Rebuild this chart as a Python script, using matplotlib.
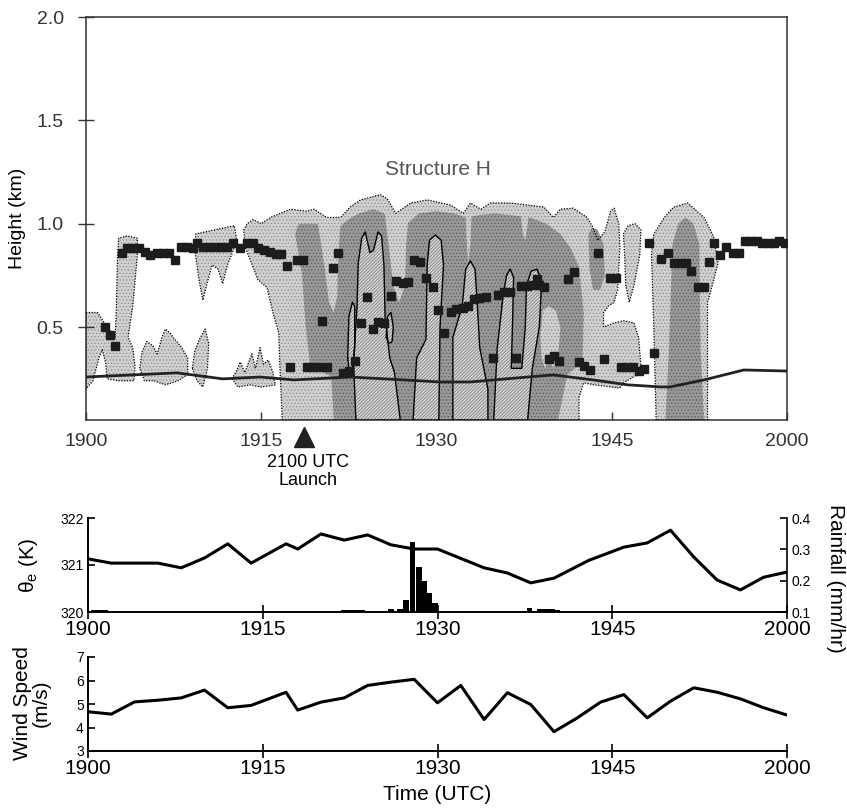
import matplotlib
matplotlib.use('Agg')
import matplotlib.pyplot as plt
import matplotlib.transforms as mtransforms

plt.rcParams['font.family'] = ['Liberation Sans', 'DejaVu Sans']
plt.rcParams['mathtext.default'] = 'regular'
plt.rcParams['hatch.linewidth'] = 0.5

# time in minutes after 1900 UTC
tick_min = [0, 15, 30, 45, 60]
tick_lab = ['1900', '1915', '1930', '1945', '2000']

# ---- echo outlines (minute, km) ----
# weak echo, dotted outline
weak_1 = [(0, 0.57), (1.0, 0.57), (1.8, 0.5), (2.5, 0.45), (2.6, 0.6), (2.7, 0.85), (2.8, 0.93),
          (3.5, 0.94), (4.4, 0.93), (4.4, 0.85), (4.0, 0.6), (3.6, 0.45), (4.0, 0.4), (4.2, 0.31),
          (4.1, 0.24), (2.7, 0.24), (1.8, 0.25), (1.7, 0.32), (1.4, 0.39), (1.1, 0.35), (0.6, 0.24),
          (0, 0.2)]
weak_2 = [(4.6, 0.3), (4.8, 0.38), (5.2, 0.43), (5.7, 0.41), (6.1, 0.37), (6.5, 0.45), (6.8, 0.49),
          (7.2, 0.47), (7.6, 0.44), (8.2, 0.4), (8.7, 0.35), (8.7, 0.27), (7.9, 0.24), (6.8, 0.22),
          (5.8, 0.24), (5.0, 0.24)]
weak_3 = [(9.1, 0.3), (9.3, 0.38), (9.7, 0.44), (10.2, 0.49), (10.5, 0.42), (10.4, 0.3),
          (10.0, 0.21), (9.5, 0.24)]
weak_4 = [(9.3, 0.88), (9.4, 0.95), (11.0, 0.97), (12.7, 0.99), (12.9, 0.92), (12.6, 0.87),
          (12.1, 0.8), (11.7, 0.71), (11.3, 0.78), (10.8, 0.8), (10.4, 0.72), (10.0, 0.63), (9.7, 0.72)]
weak_5 = [(12.5, 0.25), (12.9, 0.29), (13.2, 0.33), (13.6, 0.28), (14.2, 0.37), (14.5, 0.3),
          (14.9, 0.4), (15.2, 0.32), (15.6, 0.34), (16.0, 0.28), (16.2, 0.22), (15.0, 0.21),
          (14.0, 0.22), (13.0, 0.21)]
weak_6 = [(16.8, 0.05), (16.6, 0.3), (16.5, 0.47), (16.0, 0.57), (15.5, 0.69), (14.7, 0.73),
          (14.3, 0.79), (13.6, 0.89), (13.5, 0.97), (13.8, 1.0), (14.3, 1.02), (15.0, 1.0),
          (15.8, 1.03), (17.5, 1.07), (18.9, 1.06), (19.5, 1.07), (20.6, 1.03), (21.8, 1.03),
          (22.6, 1.08), (23.5, 1.115), (25.2, 1.14), (25.8, 1.12), (26.5, 1.05), (27.8, 1.1),
          (29.2, 1.115), (31.2, 1.09), (32.3, 1.05), (32.9, 1.1), (33.8, 1.07), (34.6, 1.1),
          (36.3, 1.1), (37.8, 1.09), (39.2, 1.08), (40.0, 1.03), (40.6, 1.07), (41.7, 1.075),
          (42.9, 1.03), (43.4, 0.98), (43.8, 0.92), (44.4, 0.96), (44.9, 1.06), (45.2, 1.075),
          (45.6, 1.0), (45.7, 0.89), (45.5, 0.68), (45.2, 0.62), (44.7, 0.6), (44.3, 0.57),
          (44.3, 0.5), (45.2, 0.52), (46.0, 0.53), (46.9, 0.52), (47.3, 0.45), (47.5, 0.31),
          (47.2, 0.27), (46.0, 0.23), (45.7, 0.205), (43.5, 0.22), (42.6, 0.23), (42.2, 0.16),
          (42.2, 0.05)]
weak_7 = [(46.0, 0.95), (46.4, 0.99), (47.0, 1.0), (47.5, 0.97), (47.4, 0.85), (46.9, 0.7),
          (46.5, 0.62), (46.2, 0.7), (46.1, 0.85)]
weak_8 = [(48.8, 0.05), (48.6, 0.5), (48.4, 0.85), (48.6, 0.95), (49.5, 1.03), (50.3, 1.08),
          (51.5, 1.1), (52.9, 1.03), (53.7, 0.94), (54.1, 0.81), (53.6, 0.7), (53.2, 0.62),
          (53.2, 0.05)]
weak_all = [weak_1, weak_2, weak_3, weak_4, weak_5, weak_6, weak_7, weak_8]

# moderate echo
mod_1 = [(21.2, 0.05), (21.0, 0.26), (19.2, 0.31), (18.8, 0.5), (18.5, 0.75), (17.9, 0.95),
         (18.2, 1.0), (19.8, 1.0), (20.3, 0.95), (21.5, 0.97), (22.0, 1.0), (22.7, 1.03),
         (23.4, 1.05), (24.6, 1.07), (25.5, 1.05), (26.2, 1.0), (27.5, 1.0), (28.5, 1.05),
         (30.0, 1.06), (31.5, 1.05), (32.5, 1.03), (33.5, 1.04), (35.0, 1.05), (36.5, 1.04),
         (38.0, 1.03), (39.4, 1.0), (40.6, 0.95), (41.5, 0.88), (42.2, 0.79), (42.6, 0.57),
         (42.5, 0.33), (41.2, 0.27), (40.4, 0.05)]
mod_2 = [(43.0, 0.95), (43.3, 0.98), (43.8, 0.97), (44.3, 0.9), (44.4, 0.75), (44.0, 0.68),
         (43.4, 0.68), (43.1, 0.78)]
mod_3 = [(49.6, 0.05), (49.9, 0.4), (50.2, 0.9), (50.7, 1.0), (51.3, 1.03), (52.0, 1.0),
         (52.5, 0.9), (52.6, 0.4), (52.9, 0.05)]
mod_all = [mod_1, mod_2, mod_3]

# weak gaps inside the moderate echo
gap_1 = [(19.8, 1.02), (20.4, 0.8), (20.8, 0.62), (21.2, 0.57), (21.5, 0.65), (21.6, 0.85), (21.8, 1.02)]
gap_2 = [(25.6, 1.04), (26.0, 0.85), (26.3, 0.7), (26.8, 0.62), (27.3, 0.7), (27.4, 0.9), (27.6, 1.04)]
gap_3 = [(32.5, 1.05), (32.6, 0.9), (32.7, 0.81), (32.9, 0.9), (33.0, 1.05)]
gap_4 = [(37.2, 1.05), (37.4, 0.95), (37.6, 0.92), (37.8, 1.0), (37.9, 1.05)]
gap_5 = [(38.9, 0.45), (39.1, 0.58), (39.6, 0.6), (40.2, 0.58), (40.6, 0.5), (40.4, 0.35),
         (40.0, 0.3), (39.6, 0.35), (39.3, 0.3), (39.0, 0.35)]
gap_all = [gap_1, gap_2, gap_3, gap_4, gap_5]

# strong echo, hatched with solid outline
strong_1 = [(23.1, 0.05), (22.9, 0.33), (23.2, 0.6), (23.3, 0.81), (23.6, 0.93), (23.9, 0.96),
            (24.3, 0.86), (24.6, 0.87), (25.0, 0.96), (25.3, 0.94), (25.5, 0.8), (25.6, 0.55),
            (26.0, 0.35), (26.4, 0.28), (26.9, 0.05)]
strong_2 = [(22.4, 0.35), (22.5, 0.55), (22.8, 0.62), (23.0, 0.6), (23.0, 0.4), (22.8, 0.3), (22.5, 0.3)]
strong_3 = [(25.7, 0.45), (25.8, 0.55), (26.1, 0.57), (26.3, 0.5), (26.2, 0.43), (25.9, 0.42)]
strong_4 = [(28.0, 0.05), (28.3, 0.35), (29.1, 0.44), (29.2, 0.8), (29.4, 0.92), (29.9, 0.945),
            (30.4, 0.92), (30.6, 0.8), (30.3, 0.5), (30.2, 0.05)]
strong_5 = [(31.4, 0.05), (31.4, 0.45), (32.2, 0.6), (32.5, 0.78), (32.9, 0.82), (33.3, 0.78),
            (33.5, 0.6), (33.7, 0.4), (34.4, 0.2), (34.4, 0.05)]
strong_6 = [(34.9, 0.05), (35.2, 0.4), (35.7, 0.65), (36.0, 0.75), (36.3, 0.78), (36.6, 0.74),
            (36.5, 0.5), (36.4, 0.3), (37.3, 0.3), (37.6, 0.5), (37.7, 0.7), (38.1, 0.77),
            (38.6, 0.78), (39.0, 0.72), (38.8, 0.5), (38.2, 0.3), (37.8, 0.05)]
strong_all = [strong_1, strong_2, strong_3, strong_4, strong_5, strong_6]

# lidar layer tops (squares)
top_t = [1.63, 2.06, 2.49, 3.09, 3.51, 4.03, 4.54, 5.06, 5.49, 6.09, 6.6, 7.11, 7.63, 8.14, 8.66,
         9.17, 9.51, 10.03, 10.54, 11.06, 11.57, 12.09, 12.6, 13.2, 13.8, 14.31, 14.74, 15.26,
         15.77, 16.29, 16.71, 17.23, 17.49, 18.09, 18.6, 18.94, 19.37, 19.89, 20.23, 20.66, 21.17,
         21.6, 22.03, 22.54, 23.06, 23.57, 24.09, 24.6, 25.03, 25.54, 26.14, 26.57, 27.09, 27.6,
         28.11, 28.63, 29.06, 29.66, 30.17, 30.6, 31.2, 31.71, 32.23, 32.66, 33.17, 33.68, 34.2,
         34.8, 35.23, 35.74, 36.26, 36.77, 37.2, 37.71, 38.23, 38.57, 38.74, 39.17, 39.6, 40.03,
         40.46, 41.23, 41.74, 42.17, 42.6, 43.11, 43.8, 44.31, 44.83, 45.34, 45.77, 46.28, 46.8,
         47.31, 47.74, 48.17, 48.6, 49.2, 49.8, 50.31, 50.83, 51.34, 51.77, 52.37, 52.88, 53.31,
         53.74, 54.26, 54.77, 55.37, 55.88, 56.4, 56.91, 57.43, 57.86, 58.37, 58.89, 59.31, 59.83]
top_h = [0.50, 0.46, 0.41, 0.86, 0.88, 0.88, 0.88, 0.865, 0.85, 0.86, 0.86, 0.86, 0.825, 0.885,
         0.885, 0.88, 0.905, 0.885, 0.885, 0.885, 0.885, 0.885, 0.905, 0.883, 0.905, 0.905, 0.883,
         0.875, 0.865, 0.855, 0.855, 0.796, 0.307, 0.825, 0.825, 0.307, 0.307, 0.307, 0.53, 0.307,
         0.785, 0.858, 0.278, 0.285, 0.336, 0.52, 0.645, 0.49, 0.525, 0.52, 0.65, 0.725, 0.715,
         0.72, 0.825, 0.815, 0.737, 0.694, 0.58, 0.47, 0.575, 0.585, 0.59, 0.6, 0.635, 0.64, 0.645,
         0.35, 0.655, 0.67, 0.67, 0.35, 0.70, 0.70, 0.705, 0.73, 0.705, 0.695, 0.345, 0.36, 0.335,
         0.73, 0.766, 0.33, 0.31, 0.29, 0.858, 0.345, 0.737, 0.737, 0.307, 0.307, 0.307, 0.285,
         0.295, 0.905, 0.375, 0.83, 0.858, 0.81, 0.81, 0.81, 0.77, 0.694, 0.694, 0.815, 0.905,
         0.85, 0.885, 0.858, 0.858, 0.915, 0.915, 0.915, 0.905, 0.905, 0.905, 0.915, 0.905]

# lifting condensation level
lcl_t = [0, 7.8, 11.7, 14.9, 17.8, 22.6, 27.2, 30.3, 32.9, 37.8, 40.0, 43.4, 46.4, 49.2, 50.0,
         52.9, 56.3, 60]
lcl_h = [0.258, 0.278, 0.249, 0.258, 0.244, 0.258, 0.244, 0.234, 0.234, 0.258, 0.268, 0.244,
         0.220, 0.210, 0.210, 0.244, 0.292, 0.287]

# surface theta-e
the_t = [0, 2, 4, 6, 8, 10, 12, 14, 17, 18, 20, 22, 24, 26, 28, 30, 34, 36, 38, 40, 43, 46, 48,
         50, 52, 54, 56, 58, 60]
the_v = [321.13, 321.04, 321.04, 321.04, 320.94, 321.15, 321.45, 321.04, 321.45, 321.34, 321.66,
         321.53, 321.64, 321.43, 321.34, 321.34, 320.94, 320.83, 320.62, 320.72, 321.1, 321.38,
         321.47, 321.74, 321.17, 320.68, 320.47, 320.74, 320.85]

# rainfall
rain_t = [0.5, 1.0, 1.5, 22.0, 22.5, 23.0, 23.5, 26.0, 26.75, 27.3, 27.85, 28.4, 28.85, 29.3,
          29.75, 37.9, 38.8, 39.3, 39.8, 40.3]
rain_v = [0.107, 0.107, 0.107, 0.105, 0.105, 0.105, 0.105, 0.108, 0.11, 0.137, 0.323, 0.245,
          0.2, 0.16, 0.13, 0.112, 0.108, 0.108, 0.108, 0.106]

# surface wind speed
wind_t = [0, 2, 4, 6, 8, 10, 12, 14, 17, 18, 20, 22, 24, 26, 28, 30, 32, 34, 36, 38, 40, 42, 44,
          46, 48, 50, 52, 54, 56, 58, 60]
wind_v = [4.67, 4.57, 5.09, 5.16, 5.26, 5.59, 4.84, 4.94, 5.5, 4.74, 5.08, 5.26, 5.79, 5.93, 6.05,
          5.05, 5.79, 4.34, 5.48, 4.98, 3.82, 4.41, 5.08, 5.4, 4.41, 5.12, 5.69, 5.5, 5.22, 4.84, 4.53]

W, H = 847, 811
fig = plt.figure(figsize=(W / 100, H / 100), dpi=100)


def box(x0, y0, x1, y1):
    return [x0 / W, 1 - y1 / H, (x1 - x0) / W, (y1 - y0) / H]


def shade(ax, pts, face, hatch, hcol, z):
    t, h = zip(*pts)
    ax.fill(t, h, facecolor=face, edgecolor=hcol, hatch=hatch, linewidth=0, zorder=z)


def outline(ax, pts, ls, lw, z):
    t, h = zip(*(pts + pts[:1]))
    ax.plot(t, h, ls=ls, color='k', lw=lw, zorder=z)


# ---- height-time section ----
ax = fig.add_axes(box(86, 17, 787, 420))
for p in weak_all:
    shade(ax, p, '#d0d0d0', '.....', '#8a8a8a', 1)
for p in mod_all:
    shade(ax, p, '#989898', '.....', '#5a5a5a', 2)
for p in gap_all:
    shade(ax, p, '#d0d0d0', '.....', '#8a8a8a', 2.5)
for p in strong_all:
    shade(ax, p, '#d6d6d6', '//////////', '#707070', 3)
for p in weak_all:
    outline(ax, p, (0, (1, 1.2)), 0.9, 3.5)
for p in strong_all:
    outline(ax, p, '-', 1.0, 3.6)

ax.plot(lcl_t, lcl_h, color='#222222', lw=2.0, zorder=5)
ax.plot(top_t, top_h, ls='none', marker='s', ms=5.6, color='#1c1c1c', zorder=6)

ax.set_xlim(0, 60)
ax.set_ylim(0.05, 2.0)
ax.set_xticks(tick_min)
ax.set_xticklabels(tick_lab)
ax.set_yticks([0.5, 1.0, 1.5, 2.0])
ax.set_yticklabels(['0.5', '1.0', '1.5', '2.0'])
ax.tick_params(axis='x', direction='in', length=6, width=1, pad=9, labelsize=14, colors='#333333')
ax.tick_params(axis='y', direction='inout', length=12, width=1, pad=10, labelsize=14, colors='#333333')
for s in ax.spines.values():
    s.set_linewidth(1.1)
    s.set_color('#333333')
ax.text(30.1, 1.26, 'Structure H', ha='center', va='center', fontsize=15, color='#555555', zorder=7)

trans = mtransforms.blended_transform_factory(ax.transData, ax.transAxes)
ax.plot([18.7], [-0.042], marker='^', ms=14, color='#222222', transform=trans, clip_on=False)
ax.text(19.0, -0.128, '2100 UTC\nLaunch', ha='center', va='center', fontsize=13,
        linespacing=1.05, transform=trans)

fig.text(18 / W, 1 - 218 / H, 'Height (km)', rotation=90, ha='center', va='center', fontsize=14)

# ---- theta-e and rainfall ----
ax2 = fig.add_axes(box(88, 518, 787, 612))
ax2.plot(the_t, the_v, color='k', lw=2.2, zorder=3)
ax2.set_xlim(0, 60)
ax2.set_ylim(320, 322)
ax2.set_yticks([320, 321, 322])
ax2.set_xticks(tick_min)
ax2.set_xticklabels(tick_lab)
ax2.tick_params(axis='x', direction='inout', length=10, width=1.2, pad=1, labelsize=15)
ax2.tick_params(axis='y', direction='in', length=5, width=1.2, pad=3, labelsize=10)
ax2.spines['top'].set_visible(False)
ax2.spines['right'].set_visible(False)
for s in ('left', 'bottom'):
    ax2.spines[s].set_linewidth(1.4)

axr = ax2.twinx()
axr.bar(rain_t, rain_v, width=0.5, color='k', zorder=4)
axr.set_ylim(0.1, 0.4)
axr.set_yticks([0.1, 0.2, 0.3, 0.4])
axr.set_yticklabels(['0.1', '0.2', '0.3', '0.4'])
axr.tick_params(axis='y', direction='in', length=5, width=1.2, pad=3, labelsize=10)
for s in ('top', 'left', 'bottom'):
    axr.spines[s].set_visible(False)
axr.spines['right'].set_linewidth(1.2)

fig.text(28 / W, 1 - 566 / H, 'θ$_{e}$ (K)', rotation=90, ha='center', va='center', fontsize=15)
fig.text(835 / W, 1 - 578 / H, 'Rainfall (mm/hr)', rotation=270, ha='center', va='center',
         fontsize=15)

# ---- wind speed ----
ax3 = fig.add_axes(box(88, 657, 787, 751))
ax3.plot(wind_t, wind_v, color='k', lw=2.2)
ax3.set_xlim(0, 60)
ax3.set_ylim(3, 7)
ax3.set_yticks([3, 4, 5, 6, 7])
ax3.set_xticks(tick_min)
ax3.set_xticklabels(tick_lab)
ax3.tick_params(axis='x', direction='inout', length=10, width=1.2, pad=1, labelsize=15)
ax3.tick_params(axis='y', direction='in', length=5, width=1.2, pad=3, labelsize=10)
ax3.spines['top'].set_visible(False)
ax3.spines['right'].set_visible(False)
for s in ('left', 'bottom'):
    ax3.spines[s].set_linewidth(1.4)

fig.text(32 / W, 1 - 703 / H, 'Wind Speed\n(m/s)', rotation=90, ha='center', va='center',
         fontsize=15, linespacing=0.95)
fig.text(437 / W, 1 - 795 / H, 'Time (UTC)', ha='center', va='center', fontsize=15)

fig.savefig('out.png', dpi=100)
